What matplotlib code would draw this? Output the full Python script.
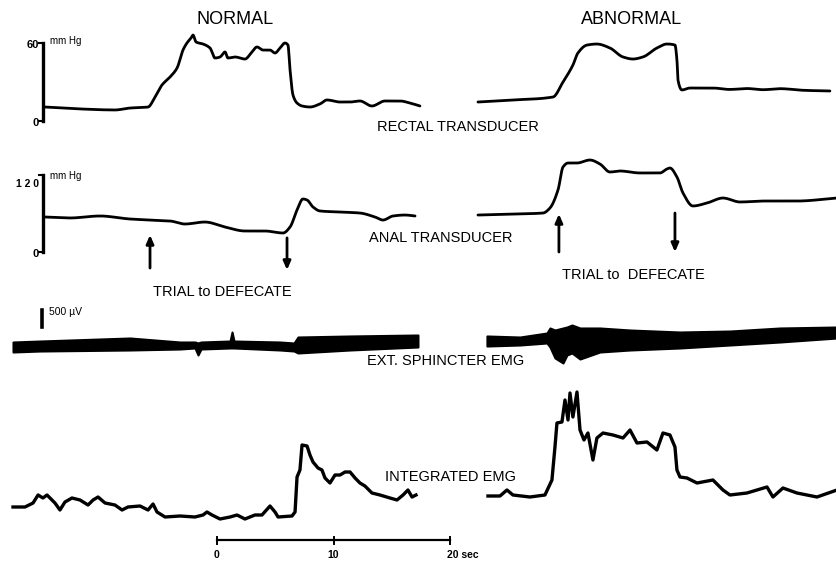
import matplotlib
matplotlib.use("Agg")
import matplotlib.pyplot as plt
import numpy as np

plt.rcParams['font.family'] = ['Liberation Sans', 'DejaVu Sans']

# ---------------- data (time in s; normal t=0 at scale-bar zero) ----------------
ABN_OFFSET = 22.4   # abnormal recording shown to the right, its own t=0 at this offset

# Rectal transducer (mm Hg)
rect_n_t = [-14.76, -11.76, -8.76, -7.47, -5.92, -5.32, -4.72, -4.03, -3.43, -2.92, -2.58, -2.23, -2.06,
            -1.80, -1.20, -0.60, -0.17, 0.26, 0.69, 0.94, 1.55, 2.40, 3.00, 3.43, 3.95, 4.55, 4.98, 5.41,
            5.84, 6.09, 6.27, 6.52, 6.87, 7.30, 7.98, 8.84, 9.44, 10.56, 11.42, 12.27, 13.30, 14.42,
            15.71, 16.57, 17.42]
rect_n_v = [10.9, 9.4, 8.6, 10.1, 10.9, 18.7, 28.1, 34.3, 41.3, 55.3, 60.8, 64.7, 67.0,
            61.6, 60.0, 56.9, 49.1, 49.9, 53.8, 49.1, 49.9, 48.3, 53.8, 57.7, 55.3, 55.3, 53.0, 56.9,
            60.8, 59.2, 39.8, 20.3, 14.0, 11.7, 10.9, 13.3, 16.4, 14.8, 14.8, 15.6, 11.7, 15.6,
            15.6, 14.0, 11.7]
rect_a_t = [0.0, 3.00, 6.44, 7.30, 8.15, 8.58, 9.36, 10.21, 11.33, 12.45, 13.30, 14.16, 15.36, 16.22,
            16.91, 17.08, 17.17, 17.51, 18.20, 20.17, 21.6, 23.09, 24.5, 25.92, 28.0, 30.21]
rect_a_v = [14.8, 16.4, 18.7, 30.4, 43.6, 53.0, 59.2, 60.0, 56.9, 49.9, 48.3, 49.9, 56.9, 60.0,
            59.2, 47.5, 31.9, 24.2, 25.7, 25.7, 24.6, 25.3, 24.4, 25.2, 23.9, 23.4]

# Anal transducer (mm Hg)
anal_n_t = [-14.76, -12.62, -10.04, -7.47, -5.75, -4.03, -2.75, -1.03, 0.69, 2.40, 4.12, 5.67, 6.27,
            6.87, 7.38, 7.73, 8.24, 8.84, 10.56, 12.27, 13.56, 14.25, 15.11, 16.14, 17.00]
anal_n_v = [54.5, 53.0, 56.1, 51.4, 49.8, 48.3, 43.6, 46.7, 38.9, 32.7, 32.7, 29.6, 38.9,
            65.4, 82.6, 81.0, 70.1, 63.9, 62.3, 60.7, 54.5, 49.8, 56.1, 57.6, 56.1]
anal_a_t = [0.0, 3.00, 5.58, 6.18, 6.87, 7.30, 7.73, 8.50, 9.61, 10.47, 11.33, 12.19, 13.91, 15.62,
            16.22, 16.48, 17.08, 17.60, 18.45, 19.66, 21.03, 22.49, 24.46, 27.38, 30.82]
anal_a_v = [57.6, 59.2, 60.7, 68.5, 96.6, 132.4, 138.6, 138.6, 143.3, 137.1, 124.6, 126.2, 123.1, 123.1,
            129.3, 130.8, 116.8, 91.9, 71.7, 76.3, 84.1, 77.9, 79.4, 79.4, 84.1]

# "Trial to defecate" markers: (time, start mmHg, end mmHg)
arrow_n_t = [-5.75, 6.01]
arrow_n_from = [-25.0, 22.0]
arrow_n_to = [26.5, -28.0]
arrow_a_t = [6.95, 16.91]
arrow_a_from = [0.0, 60.7]
arrow_a_to = [59.2, 0.0]

# External sphincter EMG envelope (µV)
emg_n_t = [-17.51, -15.19, -7.47, -3.18, -1.89, -1.63, -1.37, 1.12, 1.29, 1.46, 5.41, 6.61, 6.95, 11.42, 17.25]
emg_n_hi = [147, 176, 265, 147, 147, 118, 147, 176, 441, 176, 147, 118, 294, 324, 353]
emg_n_lo = [-147, -118, -88, -59, -29, -235, -59, -29, -29, -29, -88, -118, -176, -88, 0]
emg_a_t = [0.77, 3.61, 5.92, 6.18, 6.61, 7.30, 7.64, 8.07, 8.76, 10.47, 13.05, 17.34, 21.63, 25.92, 30.82]
emg_a_hi = [324, 294, 412, 559, 500, 559, 588, 647, 559, 559, 500, 441, 470, 559, 588]
emg_a_lo = [29, 59, 118, 0, -323, -470, -235, -176, -353, -147, -88, -29, 59, 147, 265]

# Integrated EMG (arbitrary units)
iemg_n_t = [-17.51, -16.48, -15.79, -15.36, -14.94, -14.59, -13.91, -13.48, -13.05, -12.45, -11.76, -11.07,
            -10.64, -10.21, -9.61, -8.76, -8.15, -7.64, -6.61, -5.92, -5.49, -5.15, -4.46, -3.18, -1.89,
            -1.20, -0.86, -0.43, 0.26, 1.12, 1.72, 2.40, 3.26, 3.86, 4.55, 4.98, 5.24, 6.44, 6.70, 6.87,
            7.12, 7.30, 7.73, 7.98, 8.24, 8.67, 9.01, 9.27, 9.70, 10.13, 10.56, 10.99, 11.42, 11.85, 12.27,
            12.70, 13.30, 13.99, 14.85, 15.45, 15.97, 16.39, 16.74, 17.08]
iemg_n_v = [13, 13, 17, 25, 22, 25, 17, 10, 18, 22, 20, 15,
            20, 23, 17, 15, 10, 13, 14, 10, 16, 8, 3, 4, 3,
            5, 8, 5, 1, 3, 5, 1, 5, 5, 14, 8, 3, 4, 8, 43,
            50, 75, 74, 65, 58, 52, 50, 42, 37, 45, 45, 48, 48, 42, 37,
            34, 27, 25, 22, 20, 25, 30, 23, 25]
iemg_a_t = [0.86, 1.89, 2.49, 3.00, 4.46, 5.75, 6.35, 6.61, 6.78, 7.21, 7.47, 7.73, 7.90, 8.15, 8.50, 8.76,
            9.10, 9.44, 9.87, 10.21, 10.73, 11.59, 12.45, 13.05, 13.65, 14.51, 15.36, 15.88, 16.48, 16.91,
            17.08, 17.34, 17.94, 18.80, 20.17, 21.03, 21.63, 23.09, 24.81, 25.32, 26.18, 27.38, 29.10, 30.82]
iemg_a_v = [24, 24, 30, 25, 23, 25, 40, 73, 97, 98, 120, 100, 127, 103, 128, 90,
            80, 87, 60, 82, 87, 85, 82, 90, 77, 78, 70, 87, 85, 73,
            50, 43, 42, 37, 40, 30, 25, 27, 33, 23, 32, 27, 23, 30]

# Time scale (s)
time_ticks = [0, 10, 20]
time_labels = ['0', '10', '20 sec']

# ---------------- helpers ----------------
def pchip(x, y, n=12):
    """Monotone cubic (PCHIP) resampling for a smooth pen-recorder look."""
    x = np.asarray(x, float); y = np.asarray(y, float)
    h = np.diff(x); dl = np.diff(y) / h
    d = np.zeros_like(y)
    d[0], d[-1] = dl[0], dl[-1]
    for k in range(1, len(x) - 1):
        if dl[k - 1] * dl[k] <= 0:
            d[k] = 0.0
        else:
            w1 = 2 * h[k] + h[k - 1]; w2 = h[k] + 2 * h[k - 1]
            d[k] = (w1 + w2) / (w1 / dl[k - 1] + w2 / dl[k])
    xs, ys = [], []
    for k in range(len(x) - 1):
        s = np.linspace(0, 1, n, endpoint=False)
        h00 = 2 * s**3 - 3 * s**2 + 1; h10 = s**3 - 2 * s**2 + s
        h01 = -2 * s**3 + 3 * s**2; h11 = s**3 - s**2
        xs.append(x[k] + s * h[k])
        ys.append(h00 * y[k] + h10 * h[k] * d[k] + h01 * y[k + 1] + h11 * h[k] * d[k + 1])
    xs.append([x[-1]]); ys.append([y[-1]])
    return np.concatenate(xs), np.concatenate(ys)


W, H = 837, 564
PX_PER_S = 11.65
X0_PX = 217
fig = plt.figure(figsize=(W / 100, H / 100), dpi=100)
fig.patch.set_facecolor('white')


def track_axes(zero_px, px_per_unit):
    ax = fig.add_axes([0, 0, 1, 1])
    ax.set_xlim(-X0_PX / PX_PER_S, (W - X0_PX) / PX_PER_S)
    ax.set_ylim((zero_px - H) / px_per_unit, zero_px / px_per_unit)
    ax.axis('off')
    ax.patch.set_alpha(0)
    return ax


def ftext(x, y, s, **kw):
    fig.text(x / W, 1 - y / H, s, **kw)


LW = 2.0
line_kw = dict(color='k', lw=LW, solid_joinstyle='round', solid_capstyle='round')
ax_r = track_axes(121, 1.283)
ax_a = track_axes(252, 0.642)
ax_e = track_axes(347, 0.034)
ax_i = track_axes(520, 1.0)

abn = lambda t: np.asarray(t) + ABN_OFFSET

# rectal
ax_r.plot(*pchip(rect_n_t, rect_n_v), **line_kw)
ax_r.plot(*pchip(abn(rect_a_t), rect_a_v), **line_kw)
bar_t = -14.94
ax_r.plot([bar_t, bar_t], [0, 61], color='k', lw=2.4)
ax_r.plot([bar_t - 0.3, bar_t], [61, 61], color='k', lw=1.5)
ax_r.plot([bar_t - 0.3, bar_t], [0, 0], color='k', lw=1.5)

# anal
ax_a.plot(*pchip(anal_n_t, anal_n_v), **line_kw)
ax_a.plot(*pchip(abn(anal_a_t), anal_a_v), **line_kw)
ax_a.plot([bar_t, bar_t], [0, 120], color='k', lw=2.4)
ax_a.plot([bar_t - 0.3, bar_t], [120, 120], color='k', lw=1.5)
ax_a.plot([bar_t - 0.3, bar_t], [0, 0], color='k', lw=1.5)
for ts, fr, to in [(arrow_n_t, arrow_n_from, arrow_n_to), (list(abn(arrow_a_t)), arrow_a_from, arrow_a_to)]:
    for t, a, b in zip(ts, fr, to):
        ax_a.annotate('', xy=(t, b), xytext=(t, a),
                      arrowprops=dict(arrowstyle='-|>,head_length=0.5,head_width=0.22',
                                      color='k', lw=2.0, shrinkA=0, shrinkB=0))

# EMG
ax_e.fill_between(emg_n_t, emg_n_lo, emg_n_hi, color='k', lw=1.5, edgecolor='k', joinstyle='round')
ax_e.fill_between(abn(emg_a_t), emg_a_lo, emg_a_hi, color='k', lw=1.5, edgecolor='k', joinstyle='round')
ax_e.plot([-15.0, -15.0], [590, 1090], color='k', lw=2.6)

# integrated EMG
ax_i.plot(iemg_n_t, iemg_n_v, color='k', lw=2.4, solid_joinstyle='round')
ax_i.plot(abn(iemg_a_t), iemg_a_v, color='k', lw=2.4, solid_joinstyle='round')
# time scale bar
ax_i.plot([time_ticks[0], time_ticks[-1]], [-20, -20], color='k', lw=1.6)
for tk in time_ticks:
    ax_i.plot([tk, tk], [-17, -24], color='k', lw=1.4)
for tk, lab in zip(time_ticks, time_labels):
    ha = 'center' if lab != '20 sec' else 'left'
    x = tk - 0.3 if lab == '20 sec' else tk
    ax_i.text(x, -35, lab, ha=ha, va='center', fontsize=7.5, fontweight='bold')

# ---------------- texts ----------------
ftext(235, 20, 'NORMAL', ha='center', va='center', fontsize=13)
ftext(632, 20, 'ABNORMAL', ha='center', va='center', fontsize=13)
lab_kw = dict(ha='left', va='center', fontsize=10.5)
ftext(377, 127, 'RECTAL TRANSDUCER', **lab_kw)
ftext(369, 238, 'ANAL TRANSDUCER', **lab_kw)
ftext(367, 361, 'EXT. SPHINCTER EMG', **lab_kw)
ftext(385, 477, 'INTEGRATED EMG', **lab_kw)
ftext(222, 292, 'TRIAL to DEFECATE', ha='center', va='center', fontsize=10.5)
ftext(633, 275, 'TRIAL to  DEFECATE', ha='center', va='center', fontsize=10.5)

small = dict(fontsize=8, fontweight='bold')
ftext(39, 45, '60', ha='right', va='center', **small)
ftext(50, 41, 'mm Hg', ha='left', va='center', fontsize=7)
ftext(39, 123, '0', ha='right', va='center', **small)
ftext(39, 184, '1 2 0', ha='right', va='center', fontsize=7.5, fontweight='bold')
ftext(50, 176, 'mm Hg', ha='left', va='center', fontsize=7)
ftext(39, 254, '0', ha='right', va='center', **small)
ftext(49, 312, '500 µV', ha='left', va='center', fontsize=7.5)

fig.savefig('out.png', dpi=100, facecolor='white')
